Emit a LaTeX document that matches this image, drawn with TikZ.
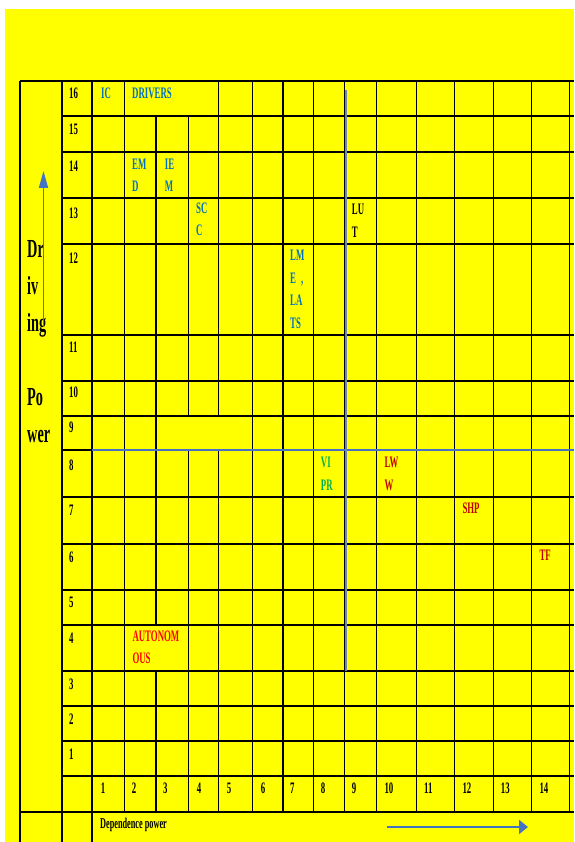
\documentclass[tikz,border=0pt]{standalone}
\usepackage{fontspec}
\usepackage{xcolor}
\usepackage{tikz}
\usetikzlibrary{arrows.meta}
\newfontfamily\tnr[FakeStretch=0.55]{Liberation Serif}
\definecolor{bgyellow}{RGB}{255,255,0}
\definecolor{txtblue}{RGB}{0,112,192}
\definecolor{txtgreen}{RGB}{0,176,80}
\definecolor{txtred}{RGB}{255,0,0}
\definecolor{txtdred}{RGB}{192,0,0}
\definecolor{arrblue}{RGB}{68,114,196}
\definecolor{cutgray}{RGB}{110,135,170}
\tikzset{
  num/.style   = {anchor=base west, inner sep=0pt, font=\tnr\bfseries\fontsize{16}{22.7}\selectfont},
  lbl/.style   = {num, align=left},
  hrule/.style = {line width=1.8pt, black},
  vrule/.style = {line width=1.2pt, black},
  flow/.style  = {-{Triangle[length=17pt,width=9pt]}, line width=1.8pt, draw=arrblue},
}

\begin{document}
\begin{tikzpicture}[x=1pt,y=-1pt]
  \useasboundingbox (0,0) rectangle (574,842);
  \fill[bgyellow] (5,9) rectangle (574,842);

  % rows
  \draw[hrule] (20,81) -- (574,81);
  \foreach \y in {116,152,198,244,335,381,416,450,497,544,590,625,671,706,741,776}
    \draw[hrule] (62,\y) -- (574,\y);
  \draw[hrule] (20,812) -- (574,812);

  % columns
  \foreach \x in {20,62,92} \draw[vrule] (\x,81) -- (\x,842);
  \draw[vrule] (124.5,81) -- (124.5,812);
  \draw[vrule] (156,116) -- (156,625) (156,671) -- (156,812);
  \draw[vrule] (188.5,116) -- (188.5,416) (188.5,450) -- (188.5,812);
  \draw[vrule] (218.5,81) -- (218.5,416) (218.5,450) -- (218.5,812);
  \foreach \x in {252.5,283,313.3,344.3,376.3,416.3,454.3,493.3,531.3,569.3}
    \draw[vrule] (\x,81) -- (\x,812);

  % quadrant lines
  \draw[line width=1.6pt, arrblue] (92,450) -- (574,450);
  \draw[line width=1.5pt, cutgray] (346,90) -- (346,671);

  % driving power scale
  \foreach \n/\y in {16/98.3,15/134.3,14/171.7,13/218.3,12/263.7,11/352.7,10/397.7,9/432.7,
                     8/470.3,7/515,6/562.7,5/607.7,4/643.7,3/689.3,2/724.3,1/759.3}
    \node[num] (row\n) at (69,\y) {\n};

  % dependence power scale
  \foreach \n/\x in {1/100.7,2/131.7,3/163,4/196.7,5/226.7,6/260.7,7/290,8/320.7,9/351.7,
                     10/384.3,11/424,12/462.3,13/500.7,14/539.3}
    \node[num] (col\n) at (\x,793.7) {\n};

  % variables (base = last line)
  \node[lbl, txtblue] (ic) at (101,98.3) {IC};
  \node[lbl, txtblue] (drivers) at (132,98.3) {DRIVERS};
  \node[lbl, txtblue] (emd) at (132,192) {EM\\D};
  \node[lbl, txtblue] (iem) at (164.7,192) {IE\\M};
  \node[lbl, txtblue] (scc) at (196,236) {SC\\C};
  \node[lbl] (lut) at (351.7,237.5) {LU\\T};
  \node[lbl, txtblue] (lmelats) at (290,328.4) {LM\\E\hspace{5pt},\\LA\\TS};
  \node[lbl, txtgreen] (vipr) at (320.7,490.4) {VI\\PR};
  \node[lbl, txtdred] (lww) at (384.3,490.4) {LW\\W};
  \node[lbl, txtdred] (shp) at (462.3,513.7) {SHP};
  \node[lbl, txtdred] (tf) at (539.3,560) {TF};
  \node[lbl, txtred] (autonomous) at (132.3,663.7) {AUTONOM\\OUS};

  % axis titles
  \node[anchor=base west, inner sep=0pt, align=left,
        font=\tnr\bfseries\fontsize{26}{37}\selectfont] (drvpow) at (27,442) {Dr\\iv\\ing\\[37pt]Po\\wer};
  \node[num, font=\tnr\bfseries\fontsize{15}{18}\selectfont] (deppow) at (100,828) {Dependence power};

  \coordinate (drvbot) at (43.5,327);
  \coordinate (drvtop) at (43.5,171);
  \draw[flow] (drvbot) -- (drvtop);
  \coordinate (depleft) at (387,827);
  \coordinate (depright) at (528,827);
  \draw[flow, -{Triangle[length=9pt,width=14pt]}, line width=2.2pt] (depleft) -- (depright);
\end{tikzpicture}
\end{document}
